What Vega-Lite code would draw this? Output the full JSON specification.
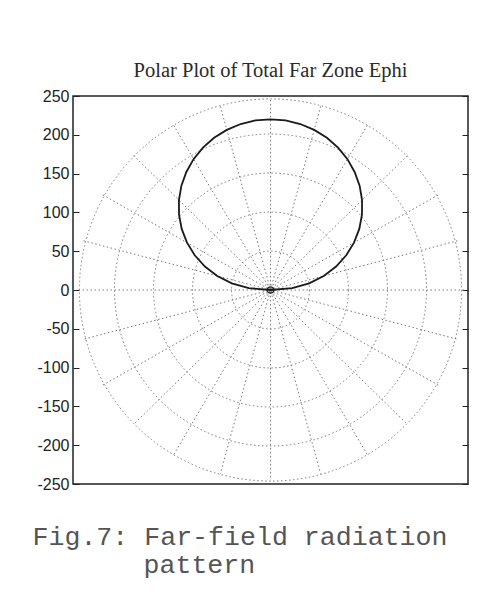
{
  "$schema": "https://vega.github.io/schema/vega-lite/v6.json",
  "width": 395,
  "height": 388,
  "autosize": "none",
  "padding": {"left": 73, "top": 96, "right": 18, "bottom": 111},
  "background": "white",
  "title": {
    "text": "Polar Plot of Total Far Zone Ephi",
    "font": "Liberation Serif",
    "fontSize": 20.5,
    "fontWeight": "normal",
    "color": "#2a2a2a",
    "baseline": "alphabetic",
    "offset": -9,
    "frame": "group",
    "anchor": "middle"
  },
  "config": {
    "view": {"stroke": "#222", "strokeWidth": 1.5},
    "axis": {"grid": false}
  },
  "datasets": {
    "rings": [{"r": 50}, {"r": 100}, {"r": 150}, {"r": 200}, {"r": 245}],
    "spokes": [
      {"angle": 0, "x": 245, "y": 0, "x2": -245, "y2": 0},
      {"angle": 15, "x": 236.6, "y": 63.4, "x2": -236.6, "y2": -63.4},
      {"angle": 30, "x": 212.2, "y": 122.5, "x2": -212.2, "y2": -122.5},
      {"angle": 45, "x": 173.2, "y": 173.2, "x2": -173.2, "y2": -173.2},
      {"angle": 60, "x": 122.5, "y": 212.2, "x2": -122.5, "y2": -212.2},
      {"angle": 75, "x": 63.4, "y": 236.6, "x2": -63.4, "y2": -236.6},
      {"angle": 90, "x": 0, "y": 245, "x2": 0, "y2": -245},
      {"angle": 105, "x": -63.4, "y": 236.6, "x2": 63.4, "y2": -236.6},
      {"angle": 120, "x": -122.5, "y": 212.2, "x2": 122.5, "y2": -212.2},
      {"angle": 135, "x": -173.2, "y": 173.2, "x2": 173.2, "y2": -173.2},
      {"angle": 150, "x": -212.2, "y": 122.5, "x2": 212.2, "y2": -122.5},
      {"angle": 165, "x": -236.6, "y": 63.4, "x2": 236.6, "y2": -63.4}
    ],
    "pattern": [
      {"deg": 0, "x": 0, "y": 0},
      {"deg": 5, "x": 27.5, "y": 2.4},
      {"deg": 10, "x": 48.9, "y": 8.6},
      {"deg": 15, "x": 67.4, "y": 18.1},
      {"deg": 20, "x": 83.0, "y": 30.2},
      {"deg": 25, "x": 95.9, "y": 44.7},
      {"deg": 30, "x": 105.7, "y": 61.0},
      {"deg": 35, "x": 112.4, "y": 78.7},
      {"deg": 40, "x": 115.8, "y": 97.1},
      {"deg": 45, "x": 115.9, "y": 115.9},
      {"deg": 50, "x": 112.8, "y": 134.4},
      {"deg": 55, "x": 106.5, "y": 152.1},
      {"deg": 60, "x": 97.4, "y": 168.6},
      {"deg": 65, "x": 85.5, "y": 183.4},
      {"deg": 70, "x": 71.4, "y": 196.1},
      {"deg": 75, "x": 55.3, "y": 206.3},
      {"deg": 80, "x": 37.7, "y": 213.9},
      {"deg": 85, "x": 19.1, "y": 218.5},
      {"deg": 90, "x": 0, "y": 220},
      {"deg": 95, "x": -19.1, "y": 218.5},
      {"deg": 100, "x": -37.7, "y": 213.9},
      {"deg": 105, "x": -55.3, "y": 206.3},
      {"deg": 110, "x": -71.4, "y": 196.1},
      {"deg": 115, "x": -85.5, "y": 183.4},
      {"deg": 120, "x": -97.4, "y": 168.6},
      {"deg": 125, "x": -106.5, "y": 152.1},
      {"deg": 130, "x": -112.8, "y": 134.4},
      {"deg": 135, "x": -115.9, "y": 115.9},
      {"deg": 140, "x": -115.8, "y": 97.1},
      {"deg": 145, "x": -112.4, "y": 78.7},
      {"deg": 150, "x": -105.7, "y": 61.0},
      {"deg": 155, "x": -95.9, "y": 44.7},
      {"deg": 160, "x": -83.0, "y": 30.2},
      {"deg": 165, "x": -67.4, "y": 18.1},
      {"deg": 170, "x": -48.9, "y": 8.6},
      {"deg": 175, "x": -27.5, "y": 2.4},
      {"deg": 180, "x": 0, "y": 0}
    ],
    "origin": [{"x": 0, "y": 0}]
  },
  "layer": [
    {
      "data": {"name": "rings"},
      "mark": {"type": "point", "shape": "circle", "filled": false, "opacity": 1, "stroke": "#7a7a7a", "strokeWidth": 1, "strokeDash": [1.5, 2.5]},
      "encoding": {
        "x": {"datum": 0, "type": "quantitative", "scale": {"domain": [-250, 250], "nice": false, "zero": false}},
        "y": {"datum": 0, "type": "quantitative", "scale": {"domain": [-250, 250], "nice": false, "zero": false}, "axis": null},
        "size": {"field": "r", "type": "quantitative", "scale": {"type": "pow", "exponent": 2, "domain": [0, 250], "range": [0, 152100]}, "legend": null}
      }
    },
    {
      "data": {"name": "spokes"},
      "mark": {"type": "rule", "stroke": "#7a7a7a", "strokeWidth": 1, "strokeDash": [1.5, 2.5]},
      "encoding": {
        "x": {"field": "x", "type": "quantitative", "scale": {"domain": [-250, 250], "nice": false, "zero": false},
          "axis": {"orient": "bottom", "labels": false, "ticks": false, "domain": false, "grid": false,
            "title": "Fig.7: Far-field radiation",
            "titleFont": "Liberation Mono", "titleFontSize": 26.6, "titleFontWeight": "normal", "titleColor": "#555555",
            "titleAnchor": "start", "titleAlign": "left", "titleX": -41, "titleY": 60, "titleBaseline": "alphabetic"}},
        "y": {"field": "y", "type": "quantitative", "scale": {"domain": [-250, 250], "nice": false, "zero": false},
          "axis": {"orient": "left", "values": [-250, -200, -150, -100, -50, 0, 50, 100, 150, 200, 250], "grid": false, "domain": false,
            "tickSize": -6, "tickColor": "#222", "labelPadding": 10, "labelFont": "Liberation Sans", "labelFontSize": 16, "labelColor": "#222",
            "labelExpr": "'' + datum.value", "title": null}},
        "x2": {"field": "x2"},
        "y2": {"field": "y2"}
      }
    },
    {
      "data": {"name": "pattern"},
      "mark": {"type": "line", "color": "#1a1a1a", "strokeWidth": 1.8},
      "encoding": {
        "x": {"field": "x", "type": "quantitative", "scale": {"domain": [-250, 250], "nice": false, "zero": false}},
        "y": {"field": "y", "type": "quantitative", "scale": {"domain": [-250, 250], "nice": false, "zero": false},
          "axis": {"orient": "right", "values": [-250, -200, -150, -100, -50, 0, 50, 100, 150, 200, 250], "grid": false, "domain": false,
            "tickSize": -6, "tickColor": "#222", "labels": false,
            "title": "pattern", "titleAngle": 0, "titleFont": "Liberation Mono", "titleFontSize": 26.6, "titleFontWeight": "normal", "titleColor": "#555555",
            "titleAlign": "left", "titleBaseline": "alphabetic", "titleX": -325, "titleY": 476}},
        "order": {"field": "deg", "type": "quantitative"}
      }
    },
    {
      "data": {"name": "origin"},
      "mark": {"type": "point", "shape": "circle", "filled": false, "opacity": 1, "size": 40, "stroke": "#1a1a1a", "strokeWidth": 1.3},
      "encoding": {
        "x": {"field": "x", "type": "quantitative", "scale": {"domain": [-250, 250], "nice": false, "zero": false}},
        "y": {"field": "y", "type": "quantitative", "scale": {"domain": [-250, 250], "nice": false, "zero": false}, "axis": null}
      }
    }
  ],
  "resolve": {"axis": {"y": "independent"}}
}
